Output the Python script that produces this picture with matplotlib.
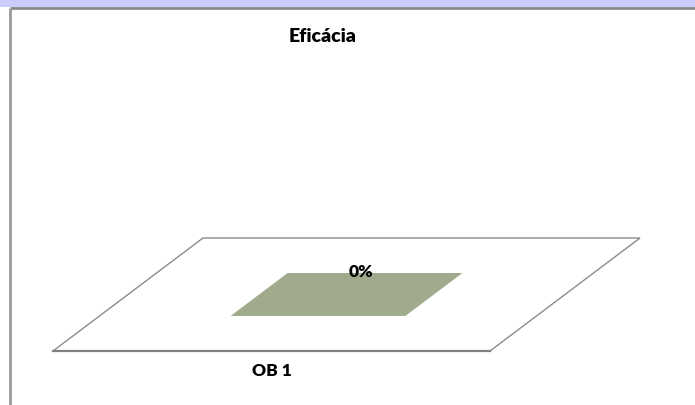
import numpy as np
import matplotlib.pyplot as plt
from matplotlib.patches import Polygon, Rectangle

# chart data
categories = ["OB 1"]
values = [0.0]           # Eficácia, fraction
value_labels = ["0%"]
title = "Eficácia"

W, H = 695, 405
fig = plt.figure(figsize=(W / 100, H / 100), dpi=100)
ax = fig.add_axes([0, 0, 1, 1])
ax.set_xlim(0, W)
ax.set_ylim(0, H)
ax.axis("off")

# oblique projection of the 3d plot area (pixel units, y up)
origin = np.array([53.0, H - 351.0])   # front-left corner of the floor
x_vec = np.array([437.0, 0.0])         # along categories
d_vec = np.array([150.0, 113.0])       # depth
z_vec = np.array([0.0, 150.0])         # value axis (0..1)


def project(x, d, z=0.0):
    return origin + x * x_vec + d * d_vec + z * z_vec


# header band and frame
ax.add_patch(Rectangle((0, H - 6.5), W, 6.5, color="#ccccff", lw=0))
ax.plot([9.5, W], [H - 7.5, H - 7.5], color="#8a8a8a", lw=2, solid_capstyle="butt")
ax.plot([9.5, 9.5], [0, H - 7.5], color="#9a9a9a", lw=2, solid_capstyle="butt")

# floor
floor = [project(0, 0), project(1, 0), project(1, 1), project(0, 1)]
ax.add_patch(Polygon(floor, closed=True, fill=False, ec="#8c8c8c", lw=1))
fx = [project(0, 0)[0], project(1, 0)[0]]
ax.plot(fx, [origin[1], origin[1]], color="#808080", lw=1.6)

# bars
n = len(categories)
bar_w = 0.4 / n
d0, d1 = 0.31, 0.69
txt = dict(ha="center", va="center", fontweight="heavy", family=["Lato", "DejaVu Sans"])
for i, (cat, v, lab) in enumerate(zip(categories, values, value_labels)):
    xc = (i + 0.5) / n
    x0, x1 = xc - bar_w / 2, xc + bar_w / 2
    front = [project(x0, d0, 0), project(x1, d0, 0), project(x1, d0, v), project(x0, d0, v)]
    side = [project(x1, d0, 0), project(x1, d1, 0), project(x1, d1, v), project(x1, d0, v)]
    top = [project(x0, d0, v), project(x1, d0, v), project(x1, d1, v), project(x0, d1, v)]
    for face in (front, side, top):
        ax.add_patch(Polygon(face, closed=True, fc="#a0ab8d", ec="none"))
    lx, ly = project(xc, d1, v)
    ax.text(lx - 14, ly + 1.5, lab, fontsize=12.5, **txt)
    cx, cy = project(xc, 0)
    ax.text(cx, cy - 19.5, cat, fontsize=12.5, **txt)

ax.text(323, H - 36.5, title, fontsize=14, **txt)

fig.savefig("out.png", dpi=100)
